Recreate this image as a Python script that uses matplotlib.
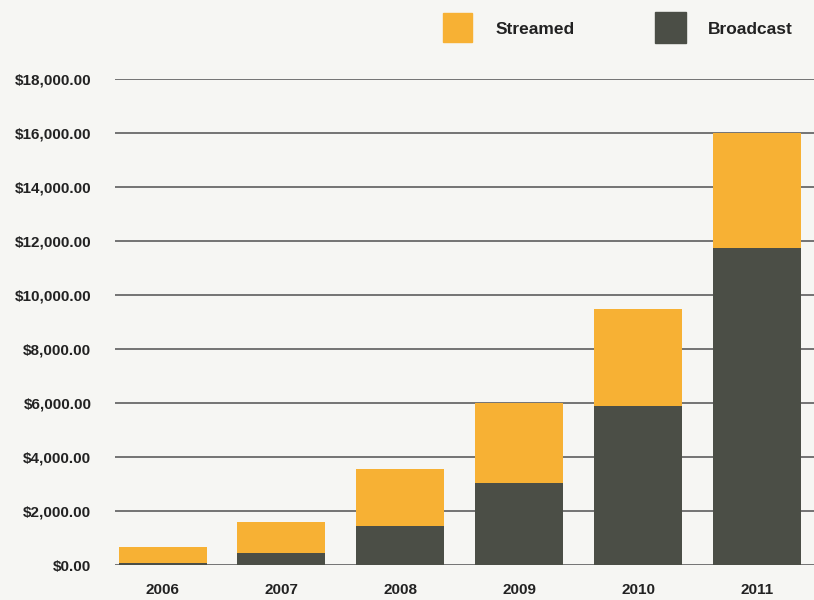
import numpy as np
import matplotlib.pyplot as plt
from matplotlib.patches import Rectangle

# values (dollars)
years = ['2006', '2007', '2008', '2009', '2010', '2011']
broadcast = [80, 450, 1450, 3050, 5900, 11750]
streamed = [570, 1150, 2100, 2950, 3600, 4250]
yticks = np.arange(0, 18001, 2000)

orange = '#F7B134'
grey = '#4B4E46'
bg = '#F6F6F3'
font = ['Liberation Sans', 'DejaVu Sans']

fig = plt.figure(figsize=(8.14, 6), dpi=100, facecolor=bg)
ax = fig.add_axes([0.1413, 0.0583, 0.8587, 0.81], facecolor=bg)

x = np.arange(len(years))
ax.bar(x, broadcast, width=0.74, color=grey, zorder=3)
ax.bar(x, streamed, width=0.74, bottom=broadcast, color=orange, zorder=3)

ax.set_xlim(-0.4, 5.48)
ax.set_ylim(0, 18000)
ax.set_yticks(yticks)
ax.set_yticklabels([f'${v:,.2f}' for v in yticks], fontfamily=font,
                   fontweight='bold', fontsize=11, color='#222222')
ax.set_xticks(x)
ax.set_xticklabels(years, fontfamily=font, fontweight='bold',
                   fontsize=11, color='#222222')
ax.tick_params(axis='y', length=0, pad=17)
ax.tick_params(axis='x', length=0, pad=13)
ax.grid(axis='y', color='#505050', linewidth=1.1, zorder=1)
for s in ax.spines.values():
    s.set_visible(False)

# legend drawn by hand at the top
fig.patches.append(Rectangle((443 / 814, 1 - 42 / 600), 29 / 814, 29 / 600,
                             transform=fig.transFigure, color=orange))
fig.text(496 / 814, 1 - 30 / 600, 'Streamed', fontfamily=font,
         fontweight='bold', fontsize=12.5, va='center', color='#222222')
fig.patches.append(Rectangle((655 / 814, 1 - 43 / 600), 31 / 814, 31 / 600,
                             transform=fig.transFigure, color=grey))
fig.text(708 / 814, 1 - 30 / 600, 'Broadcast', fontfamily=font,
         fontweight='bold', fontsize=12.5, va='center', color='#222222')

fig.savefig('out.png', dpi=100, facecolor=bg)
